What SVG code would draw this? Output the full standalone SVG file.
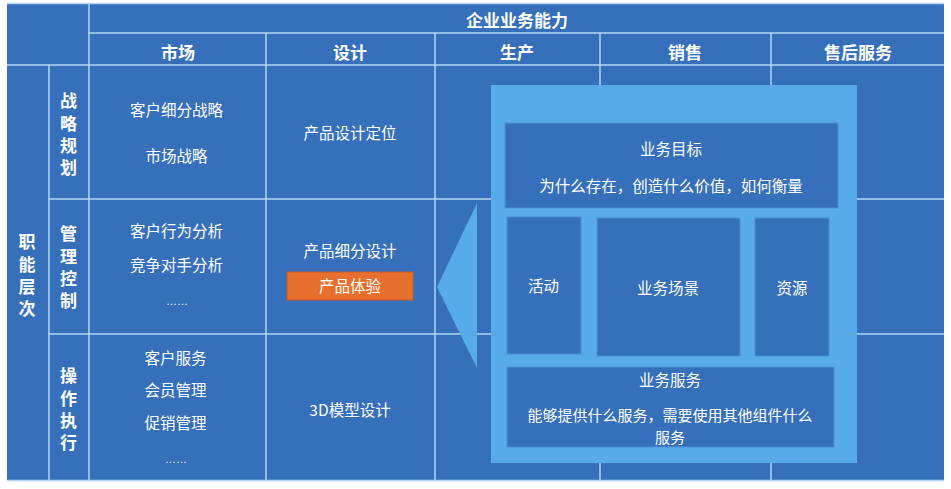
<svg xmlns="http://www.w3.org/2000/svg" width="951" height="489" viewBox="0 0 951 489">
  <style>
    text { font-family: "Noto Sans CJK SC", "Noto Sans", sans-serif; fill: #ffffff; text-anchor: middle; }
    .hd { font-size: 17px; font-weight: bold; }
    .vt { font-size: 17px; font-weight: bold; writing-mode: vertical-rl; letter-spacing: 5.3px; }
    .cell { font-size: 15.5px; }
    .wrap { font-size: 15px; }
    .dots { font-family: "Liberation Sans", sans-serif; font-size: 11px; }
    .grid line { stroke: #b3d6f2; stroke-width: 1.5; }
    .inner { fill: #3670ba; stroke: #4a8fd6; stroke-width: 1; }
  </style>

  <rect x="0" y="0" width="951" height="489" fill="#ffffff"/>
  <!-- table body -->
  <rect x="7" y="3" width="937" height="478" fill="#3670ba"/>

  <!-- grid lines -->
  <g id="grid" class="grid">
    <line x1="7" y1="3.5" x2="944" y2="3.5"/>
    <line x1="89" y1="33" x2="944" y2="33"/>
    <line x1="7" y1="65" x2="944" y2="65"/>
    <line x1="49" y1="199" x2="944" y2="199"/>
    <line x1="49" y1="334" x2="944" y2="334"/>
    <line x1="7" y1="480.5" x2="944" y2="480.5"/>
    <line x1="49" y1="65" x2="49" y2="481"/>
    <line x1="89" y1="3" x2="89" y2="481"/>
    <line x1="266" y1="33" x2="266" y2="481"/>
    <line x1="435" y1="33" x2="435" y2="481"/>
    <line x1="600" y1="33" x2="600" y2="481"/>
    <line x1="771" y1="33" x2="771" y2="481"/>
  </g>

  <!-- headers -->
  <g id="header">
    <text class="hd" x="517" y="26.5">企业业务能力</text>
    <text class="hd" x="178" y="58.5">市场</text>
    <text class="hd" x="350" y="58.5">设计</text>
    <text class="hd" x="517" y="58.5">生产</text>
    <text class="hd" x="685" y="58.5">销售</text>
    <text class="hd" x="858" y="58.5">售后服务</text>
  </g>

  <!-- functional levels -->
  <g id="level-title">
    <text class="vt" x="27" y="278">职能层次</text>
  </g>
  <g id="row-strategy">
    <text class="vt" x="68.5" y="137">战略规划</text>
  </g>
  <g id="row-management">
    <text class="vt" x="68.5" y="270">管理控制</text>
  </g>
  <g id="row-operation">
    <text class="vt" x="68.5" y="412">操作执行</text>
  </g>

  <!-- market column -->
  <g id="market-cells" class="cell">
    <text x="176.5" y="116">客户细分战略</text>
    <text x="176.5" y="162">市场战略</text>
    <text x="176.5" y="236.5">客户行为分析</text>
    <text x="176.5" y="270.5">竞争对手分析</text>
    <text class="dots" x="177" y="305">……</text>
    <text x="175.5" y="363.5">客户服务</text>
    <text x="175.5" y="395.5">会员管理</text>
    <text x="175.5" y="428.5">促销管理</text>
    <text class="dots" x="176" y="463">……</text>
  </g>

  <!-- design column -->
  <g id="design-cells" class="cell">
    <text x="350" y="138.5">产品设计定位</text>
    <text x="350" y="256.5">产品细分设计</text>
    <text x="350" y="415.5">3D模型设计</text>
  </g>
  <g id="product-experience">
    <rect x="287" y="272" width="126" height="28" fill="#e8702e" stroke="#c85a1e" stroke-width="1"/>
    <text class="cell" x="350" y="291.5">产品体验</text>
  </g>

  <!-- arrow pointing to the design column -->
  <g id="connectors">
    <polygon points="437,287 477,203 477,368" fill="#56abe8"/>
  </g>

  <!-- business component panel -->
  <g id="component">
    <rect x="491" y="85" width="366" height="378" fill="#56abe8"/>
  </g>
  <g id="goal">
    <rect class="inner" x="505" y="123" width="333" height="85"/>
    <text class="cell" x="671" y="154.5">业务目标</text>
    <text class="cell" x="671" y="191.5">为什么存在，创造什么价值，如何衡量</text>
  </g>
  <g id="activity">
    <rect class="inner" x="507" y="217" width="74" height="137"/>
    <text class="cell" x="543.5" y="291.5">活动</text>
  </g>
  <g id="scene">
    <rect class="inner" x="597" y="218" width="143" height="138"/>
    <text class="cell" x="668" y="293.5">业务场景</text>
  </g>
  <g id="resource">
    <rect class="inner" x="755" y="218" width="74" height="138"/>
    <text class="cell" x="792" y="293.5">资源</text>
  </g>
  <g id="service">
    <rect class="inner" x="507" y="367" width="327" height="80"/>
    <text class="cell" x="670" y="385.5">业务服务</text>
    <text class="wrap" x="670" y="421">能够提供什么服务，需要使用其他组件什么</text>
    <text class="wrap" x="670" y="442.5">服务</text>
  </g>
</svg>
